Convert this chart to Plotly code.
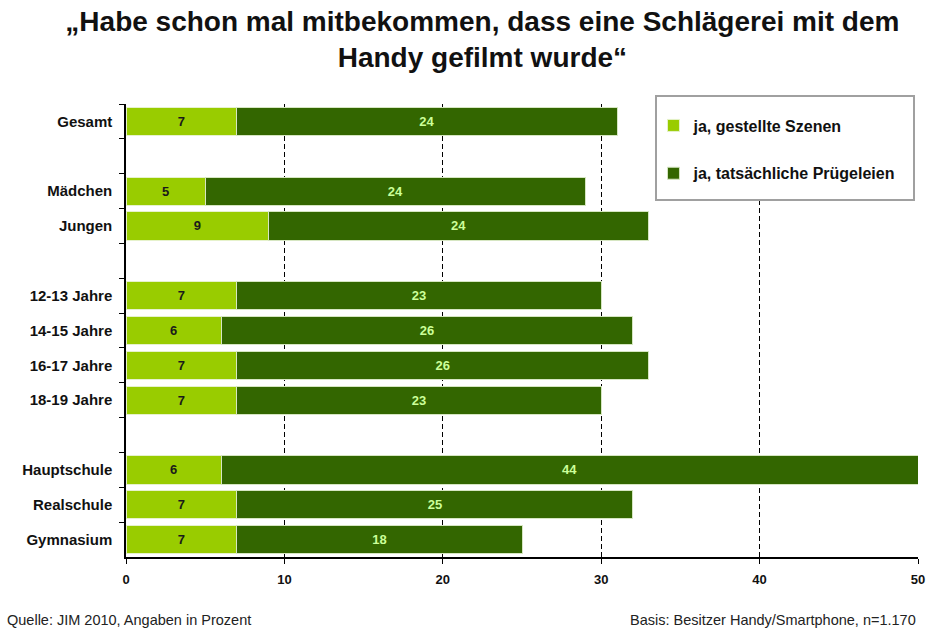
import plotly.graph_objects as go

categories = ["Gesamt", " ", "Mädchen", "Jungen", "  ", "12-13 Jahre", "14-15 Jahre",
              "16-17 Jahre", "18-19 Jahre", "   ", "Hauptschule", "Realschule", "Gymnasium"]
gestellt = [7, None, 5, 9, None, 7, 6, 7, 7, None, 6, 7, 7]
tatsaechlich = [24, None, 24, 24, None, 23, 26, 26, 23, None, 44, 25, 18]
series_names = ["ja, gestellte Szenen", "ja, tatsächliche Prügeleien"]
x_ticks = [0, 10, 20, 30, 40, 50]

FONT = "Liberation Sans, Arial, sans-serif"
LIGHT = "#99CC00"
DARK = "#336600"

fig = go.Figure()
fig.add_trace(go.Bar(
    y=categories, x=gestellt, orientation="h", name=series_names[0],
    marker=dict(color=LIGHT, line=dict(color="#E6F2CC", width=1)),
    text=[("" if v is None else str(v)) for v in gestellt],
    textposition="inside", insidetextanchor="middle", constraintext="none",
    textfont=dict(family=FONT, size=13, color="#1a1a1a", weight="bold"),
    legendgroup="a", hoverinfo="skip",
))
fig.add_trace(go.Bar(
    y=categories, x=tatsaechlich, orientation="h", name=series_names[1],
    marker=dict(color=DARK, line=dict(color="#D6E6C2", width=1)),
    text=[("" if v is None else str(v)) for v in tatsaechlich],
    textposition="inside", insidetextanchor="middle", constraintext="none",
    textfont=dict(family=FONT, size=13, color="#CCFF99", weight="bold"),
    legendgroup="b", hoverinfo="skip",
))

fig.update_layout(
    width=932, height=630,
    barmode="stack", bargap=0.19,
    paper_bgcolor="white", plot_bgcolor="white",
    margin=dict(l=126, r=14, t=104, b=73, autoexpand=False),
    font=dict(family=FONT, color="#111111"),
    title=dict(
        text="„Habe schon mal mitbekommen, dass eine Schlägerei mit dem<br>Handy gefilmt wurde“",
        x=0.45, xref="paper", xanchor="center", y=0.951, yref="container", yanchor="middle",
        font=dict(family=FONT, size=28, color="#111111", weight="bold"),
    ),
    showlegend=True,
    legend=dict(
        x=0.666, xanchor="left", y=0.99, yanchor="top",
        bgcolor="rgba(0,0,0,0)", borderwidth=0,
        font=dict(family=FONT, size=16, color="#111111", weight="bold"),
        tracegroupgap=24, traceorder="grouped", itemwidth=30,
    ),
    shapes=[
        dict(type="rect", xref="paper", yref="paper", layer="above",
             x0=(656 - 126) / 792, x1=(914 - 126) / 792,
             y0=(557 - 200) / 453, y1=1 + 8 / 453,
             line=dict(color="#A0A0A0", width=2), fillcolor="white"),
    ],
    xaxis=dict(
        range=[0, 50], tickvals=x_ticks, ticktext=[str(t) for t in x_ticks],
        showgrid=True, gridcolor="#000000", griddash="5px,3px", gridwidth=1,
        showline=True, linecolor="#000000", linewidth=1.5,
        ticks="outside", ticklen=5, tickcolor="#000000",
        tickfont=dict(family=FONT, size=13, color="#111111", weight="bold"),
        zeroline=False, fixedrange=True, ticklabelstandoff=5, automargin=False,
    ),
    yaxis=dict(
        categoryorder="array", categoryarray=categories, autorange="reversed",
        showline=True, linecolor="#000000", linewidth=1.5,
        ticks="outside", ticklen=5, tickcolor="#000000", tickson="boundaries",
        tickfont=dict(family=FONT, size=15, color="#111111", weight="bold"),
        showgrid=False, fixedrange=True, ticklabelstandoff=9, automargin=False,
    ),
    annotations=[
        dict(text="Quelle: JIM 2010, Angaben in Prozent", xref="paper", yref="paper",
             x=-121/792, y=-0.139, xanchor="left", yanchor="middle", showarrow=False,
             font=dict(family=FONT, size=14.5, color="#222222")),
        dict(text="Basis: Besitzer Handy/Smartphone, n=1.170", xref="paper", yref="paper",
             x=1.0, y=-0.139, xanchor="right", yanchor="middle", showarrow=False,
             font=dict(family=FONT, size=14.5, color="#222222")),
    ],
)

fig.write_html("out.html", config={"displayModeBar": False},
               post_script="document.body.style.margin='0';document.body.style.overflow='hidden';")
